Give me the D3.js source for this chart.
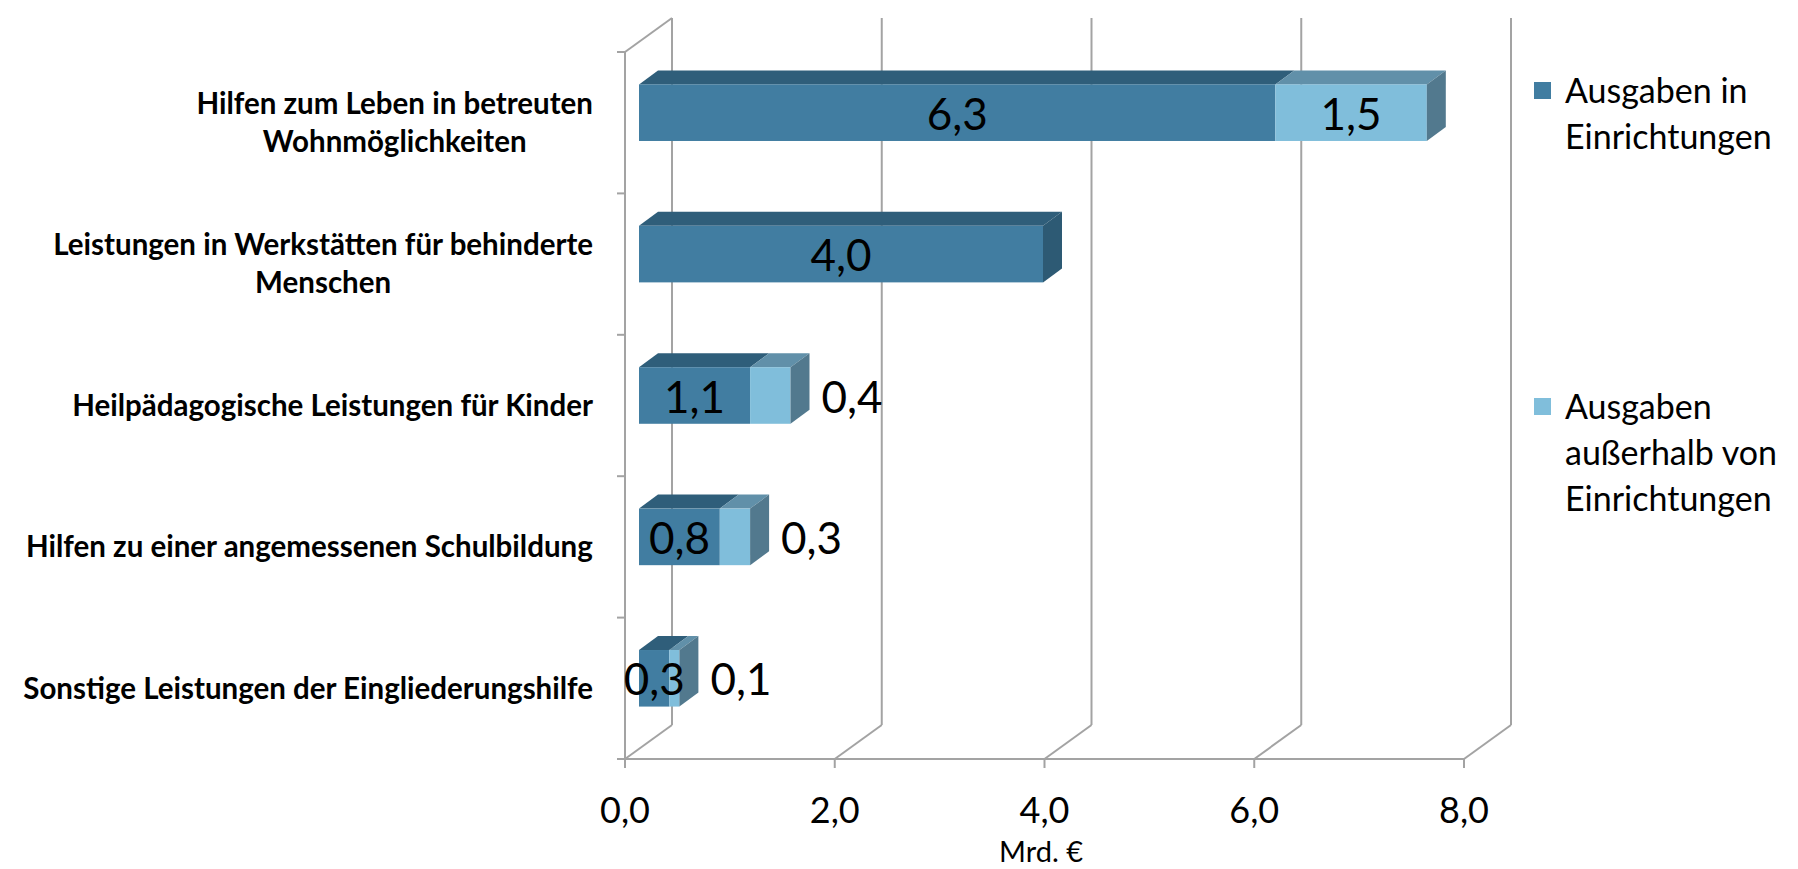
<!DOCTYPE html>
<html>
<head>
<meta charset="utf-8">
<script src="https://cdn.jsdelivr.net/npm/d3@7"></script>
<style>
  body { margin: 0; background: #fff; }
  text { font-family: Lato, "Open Sans", sans-serif; fill: #000; }
</style>
</head>
<body>
<script>
// categories (line breaks marked with "|")
var categories = [
  "Hilfen zum Leben in betreuten|Wohnmöglichkeiten",
  "Leistungen in Werkstätten für behinderte|Menschen",
  "Heilpädagogische Leistungen für Kinder",
  "Hilfen zu einer angemessenen Schulbildung",
  "Sonstige Leistungen der Eingliederungshilfe"
];
var inEinrichtungen = [6.3, 4.0, 1.1, 0.8, 0.3];
var ausserhalb      = [1.5, 0.0, 0.4, 0.3, 0.1];
var seriesNames = ["Ausgaben in|Einrichtungen", "Ausgaben|außerhalb von|Einrichtungen"];
var xTicks = [0, 2, 4, 6, 8];
var xTitle = "Mrd. €";

var w = 1798, h = 869;

var de = d3.formatLocale({decimal: ",", thousands: ".", grouping: [3], currency: ["", " €"]});
var fmt = de.format(".1f");

var svg = d3.select("body")
  .append("svg")
  .attr("width", w)
  .attr("height", h);

// 3d geometry: wall depth offset, bar position inside the depth
var depth = {dx: 47, dy: -34};
var barFront = {dx: 14, dy: -10};
var barDepth = {dx: 19, dy: -14};

var xScale = d3.scaleLinear()
  .domain([0, 8])
  .range([625, 1464]);

// bars appear slightly shorter than the floor grid in the original
var xBar = d3.scaleLinear()
  .domain([0, 8])
  .range([625, 625 + 8 * 101]);

var yScale = d3.scaleBand()
  .domain(categories)
  .range([52, 759])
  .paddingInner(0.6)
  .paddingOuter(0.3);

var floorY = 759, wallTop = 52;
var gridColor = "#a3a3a3";

// ---- walls / grid
var grid = svg.append("g")
  .attr("stroke", gridColor)
  .attr("stroke-width", 2)
  .attr("fill", "none");

// back wall verticals
grid.selectAll("line.back")
  .data(xTicks)
  .enter()
  .append("line")
  .attr("x1", function(d) { return xScale(d) + depth.dx; })
  .attr("x2", function(d) { return xScale(d) + depth.dx; })
  .attr("y1", wallTop + depth.dy)
  .attr("y2", floorY + depth.dy);

// floor diagonals
grid.selectAll("line.floor")
  .data(xTicks)
  .enter()
  .append("line")
  .attr("x1", function(d) { return xScale(d); })
  .attr("x2", function(d) { return xScale(d) + depth.dx; })
  .attr("y1", floorY)
  .attr("y2", floorY + depth.dy);

// left wall
grid.append("line")
  .attr("x1", xScale(0)).attr("x2", xScale(0))
  .attr("y1", wallTop).attr("y2", floorY);
grid.append("line")
  .attr("x1", xScale(0)).attr("x2", xScale(0) + depth.dx)
  .attr("y1", wallTop).attr("y2", wallTop + depth.dy);

// floor front line
grid.append("line")
  .attr("x1", xScale(0) - 8).attr("x2", xScale(8))
  .attr("y1", floorY).attr("y2", floorY);

// x ticks
grid.selectAll("line.xt")
  .data(xTicks)
  .enter()
  .append("line")
  .attr("x1", function(d) { return xScale(d); })
  .attr("x2", function(d) { return xScale(d); })
  .attr("y1", floorY)
  .attr("y2", floorY + 9);

// y ticks at band boundaries
var step = yScale.step();
var yTickPos = d3.range(categories.length + 1).map(function(i) { return 52 + i * step; });
grid.selectAll("line.yt")
  .data(yTickPos)
  .enter()
  .append("line")
  .attr("x1", xScale(0) - 8)
  .attr("x2", xScale(0))
  .attr("y1", function(d) { return d; })
  .attr("y2", function(d) { return d; });

// ---- bars
var colors = {
  front: ["#417da1", "#80bedb"],
  top:   ["#2f5e7a", "#6190a9"],
  side:  ["#2d5a74", "#52798e"]
};

function poly(pts) { return "M" + pts.map(function(p) { return p.join(","); }).join("L") + "Z"; }

var rows = categories.map(function(c, i) {
  return {cat: c, vals: [inEinrichtungen[i], ausserhalb[i]]};
});

var bars = svg.append("g");
var labels = [];

rows.forEach(function(r) {
  var y0 = yScale(r.cat) + barFront.dy;
  var bh = yScale.bandwidth();
  var start = 0;
  var last = r.vals[1] > 0 ? 1 : 0;
  r.vals.forEach(function(v, s) {
    if (v <= 0) return;
    var xa = xBar(start) + barFront.dx, xb = xBar(start + v) + barFront.dx;
    // top face
    bars.append("path")
      .attr("d", poly([[xa, y0], [xb, y0], [xb + barDepth.dx, y0 + barDepth.dy], [xa + barDepth.dx, y0 + barDepth.dy]]))
      .attr("fill", colors.top[s]);
    // front face
    bars.append("rect")
      .attr("x", xa).attr("y", y0)
      .attr("width", xb - xa).attr("height", bh)
      .attr("fill", colors.front[s]);
    if (s === last) {
      bars.append("path")
        .attr("d", poly([[xb, y0], [xb + barDepth.dx, y0 + barDepth.dy], [xb + barDepth.dx, y0 + bh + barDepth.dy], [xb, y0 + bh]]))
        .attr("fill", colors.side[s]);
    }
    labels.push({v: v, s: s, xa: xa, xb: xb, end: xb + barDepth.dx, y: y0 + bh / 2});
    start += v;
  });
});

// data labels: centred in the segment, pushed right of the bar if too narrow
svg.append("g")
  .selectAll("text")
  .data(labels)
  .enter()
  .append("text")
  .attr("font-size", 44)
  .attr("dominant-baseline", "central")
  .text(function(d) { return fmt(d.v); })
  .each(function(d) {
    var t = d3.select(this);
    var tw = this.getComputedTextLength();
    if (d.s === 1 && tw > d.xb - d.xa) {
      t.attr("x", d.end + 12).attr("text-anchor", "start");
    } else {
      t.attr("x", (d.xa + d.xb) / 2).attr("text-anchor", "middle");
    }
    t.attr("y", d.y);
  });

// ---- category labels
var catG = svg.append("g");
categories.forEach(function(c) {
  var lines = c.split("|");
  var cy = yScale(c) + yScale.bandwidth() / 2;
  var lh = 38;
  var t = catG.append("text")
    .attr("font-size", 29.5)
    .attr("font-weight", "bold")
    .attr("text-anchor", "middle");
  lines.forEach(function(l, i) {
    t.append("tspan")
      .attr("x", 0)
      .attr("y", cy + (i - (lines.length - 1) / 2) * lh)
      .attr("dy", "0.35em")
      .text(l);
  });
  var bw = t.node().getBBox().width;
  t.attr("transform", "translate(" + (593 - bw / 2) + ",0)");
});

// ---- x tick labels and title
svg.append("g")
  .selectAll("text")
  .data(xTicks)
  .enter()
  .append("text")
  .attr("x", function(d) { return xScale(d); })
  .attr("y", 810)
  .attr("dy", "0.35em")
  .attr("text-anchor", "middle")
  .attr("font-size", 36)
  .text(function(d) { return fmt(d); });

svg.append("text")
  .attr("x", 1041)
  .attr("y", 852)
  .attr("dy", "0.35em")
  .attr("text-anchor", "middle")
  .attr("font-size", 29)
  .text(xTitle);

// ---- legend
var legend = svg.append("g");
var legendY = [82, 398];
seriesNames.forEach(function(name, i) {
  legend.append("rect")
    .attr("x", 1534).attr("y", legendY[i])
    .attr("width", 17).attr("height", 17)
    .attr("fill", colors.front[i]);
  var t = legend.append("text").attr("font-size", 34);
  name.split("|").forEach(function(l, j) {
    t.append("tspan")
      .attr("x", 1565)
      .attr("y", legendY[i] + 9 + j * 46)
      .attr("dy", "0.35em")
      .text(l);
  });
});
</script>
</body>
</html>
